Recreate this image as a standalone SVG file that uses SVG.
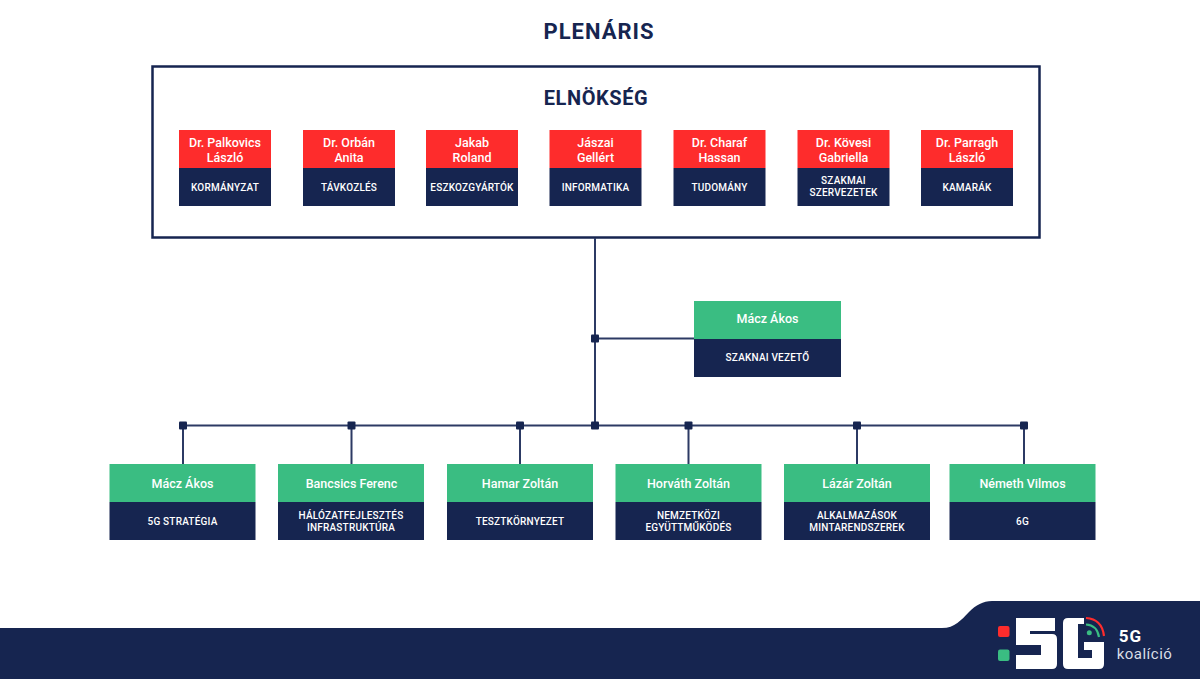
<svg xmlns="http://www.w3.org/2000/svg" width="1200" height="679" viewBox="0 0 1200 679">
<defs><style>
text{font-family:Roboto,"Liberation Sans",sans-serif;text-anchor:middle}
.t{fill:#162550;font-weight:700}
.n{fill:#fff;font-size:12.500px;font-weight:500}
.s{fill:#fff;font-size:10px;font-weight:500;letter-spacing:.2px}
.r{fill:#fe2c2c}.g{fill:#3abd82}.d{fill:#162550}
.l{stroke:#2c3a64;stroke-width:2;fill:none}
</style>
<symbol id="j" overflow="visible"><rect x="-4" y="-4" width="8" height="8" rx="1" class="d"/></symbol>
</defs>
<rect width="1200" height="679" fill="#fff"/>
<text class="t" x="599" y="38.500" font-size="22" letter-spacing="1">PLENÁRIS</text>
<g id="elnokseg"><rect x="152.500" y="66.500" width="887" height="171" fill="#fff" stroke="#162550" stroke-width="2.500"/>
<text class="t" x="596" y="104.500" font-size="20" letter-spacing=".6">ELNÖKSÉG</text></g>
<g id="connectors">
<path class="l" d="M595 238V425M595 338.500H694M183 425.500H1024M183 425V464M351.500 425V464M520 425V464M688.500 425V464M857 425V464M1024 425V464"/>
<use href="#j" x="595" y="338.500"/><use href="#j" x="595" y="425.500"/><use href="#j" x="183" y="425.500"/><use href="#j" x="351.500" y="425.500"/><use href="#j" x="520" y="425.500"/><use href="#j" x="688.500" y="425.500"/><use href="#j" x="857" y="425.500"/><use href="#j" x="1024" y="425.500"/>
</g>
<g id="p1"><rect class="r" x="179" y="130" width="92" height="38"/><rect class="d" x="179" y="168" width="92" height="38"/><text class="n" x="225" y="146.500">Dr. Palkovics</text><text class="n" x="225" y="161.500">László</text><text class="s" x="225" y="190.500">KORMÁNYZAT</text></g>
<g id="p2"><rect class="r" x="303" y="130" width="92" height="38"/><rect class="d" x="303" y="168" width="92" height="38"/><text class="n" x="349" y="146.500">Dr. Orbán</text><text class="n" x="349" y="161.500">Anita</text><text class="s" x="349" y="190.500">TÁVKOZLÉS</text></g>
<g id="p3"><rect class="r" x="426" y="130" width="92" height="38"/><rect class="d" x="426" y="168" width="92" height="38"/><text class="n" x="472" y="146.500">Jakab</text><text class="n" x="472" y="161.500">Roland</text><text class="s" x="472" y="190.500">ESZKOZGYÁRTÓK</text></g>
<g id="p4"><rect class="r" x="549.500" y="130" width="92" height="38"/><rect class="d" x="549.500" y="168" width="92" height="38"/><text class="n" x="595.500" y="146.500">Jászai</text><text class="n" x="595.500" y="161.500">Gellért</text><text class="s" x="595.500" y="190.500">INFORMATIKA</text></g>
<g id="p5"><rect class="r" x="673.500" y="130" width="92" height="38"/><rect class="d" x="673.500" y="168" width="92" height="38"/><text class="n" x="719.500" y="146.500">Dr. Charaf</text><text class="n" x="719.500" y="161.500">Hassan</text><text class="s" x="719.500" y="190.500">TUDOMÁNY</text></g>
<g id="p6"><rect class="r" x="797.500" y="130" width="92" height="38"/><rect class="d" x="797.500" y="168" width="92" height="38"/><text class="n" x="843.500" y="146.500">Dr. Kövesi</text><text class="n" x="843.500" y="161.500">Gabriella</text><text class="s" x="843.500" y="183.500">SZAKMAI</text><text class="s" x="843.500" y="195.500">SZERVEZETEK</text></g>
<g id="p7"><rect class="r" x="921" y="130" width="92" height="38"/><rect class="d" x="921" y="168" width="92" height="38"/><text class="n" x="967" y="146.500">Dr. Parragh</text><text class="n" x="967" y="161.500">László</text><text class="s" x="967" y="190.500">KAMARÁK</text></g>
<g id="vezeto"><rect class="g" x="694" y="301" width="147" height="38"/><rect class="d" x="694" y="339" width="147" height="38"/><text class="n" x="767.500" y="323">Mácz Ákos</text><text class="s" x="767.500" y="361">SZAKNAI VEZETŐ</text></g>
<g id="w1"><rect class="g" x="109.500" y="464" width="146" height="38"/><rect class="d" x="109.500" y="502" width="146" height="38"/><text class="n" x="182.500" y="488">Mácz Ákos</text><text class="s" x="182.500" y="525">5G STRATÉGIA</text></g>
<g id="w2"><rect class="g" x="278" y="464" width="146" height="38"/><rect class="d" x="278" y="502" width="146" height="38"/><text class="n" x="351.500" y="488">Bancsics Ferenc</text><text class="s" x="351" y="519">HÁLÓZATFEJLESZTÉS</text><text class="s" x="351" y="531">INFRASTRUKTÚRA</text></g>
<g id="w3"><rect class="g" x="447" y="464" width="146" height="38"/><rect class="d" x="447" y="502" width="146" height="38"/><text class="n" x="520" y="488">Hamar Zoltán</text><text class="s" x="520" y="525">TESZTKÖRNYEZET</text></g>
<g id="w4"><rect class="g" x="615.500" y="464" width="146" height="38"/><rect class="d" x="615.500" y="502" width="146" height="38"/><text class="n" x="688.500" y="488">Horváth Zoltán</text><text class="s" x="688.500" y="519">NEMZETKÖZI</text><text class="s" x="688.500" y="531">EGYÜTTMŰKÖDÉS</text></g>
<g id="w5"><rect class="g" x="784" y="464" width="146" height="38"/><rect class="d" x="784" y="502" width="146" height="38"/><text class="n" x="857" y="488">Lázár Zoltán</text><text class="s" x="857" y="519">ALKALMAZÁSOK</text><text class="s" x="857" y="531">MINTARENDSZEREK</text></g>
<g id="w6"><rect class="g" x="949.500" y="464" width="146" height="38"/><rect class="d" x="949.500" y="502" width="146" height="38"/><text class="n" x="1022.500" y="488">Németh Vilmos</text><text class="s" x="1022.500" y="525">6G</text></g>
<g id="footer">
<path class="d" d="M0 628H942C955 628 961 620 969 612C976 605 983 601 992 601H1200V679H0Z"/>
<rect class="r" x="998" y="626" width="11.500" height="11" rx="2"/><rect class="g" x="998" y="649.500" width="11.500" height="11.500" rx="2"/>
<path fill="#fff" d="M1016 618H1055V631H1030V634H1052Q1057 634 1057 639V664Q1057 669 1052 669H1016V655H1041V645H1016Z"/>
<path fill="#fff" d="M1068 618H1084V624H1078V658H1092V650H1084V642H1104V664Q1104 669 1099 669H1068Q1063 669 1063 664V623Q1063 618 1068 618Z"/>
<circle class="g" cx="1089.300" cy="632.700" r="2.500"/>
<path fill="none" stroke="#3abd82" stroke-width="2.200" d="M1086 624.500Q1097 625 1099 637"/>
<path fill="none" stroke="#fe2c2c" stroke-width="2.200" d="M1086 618Q1102 619 1104 636"/>
<text x="1130.500" y="641.500" fill="#fff" font-size="17" font-weight="700" letter-spacing="1">5G</text>
<text x="1144.500" y="659" fill="#d9dde6" font-size="15" letter-spacing=".5">koalíció</text>
</g>
</svg>
